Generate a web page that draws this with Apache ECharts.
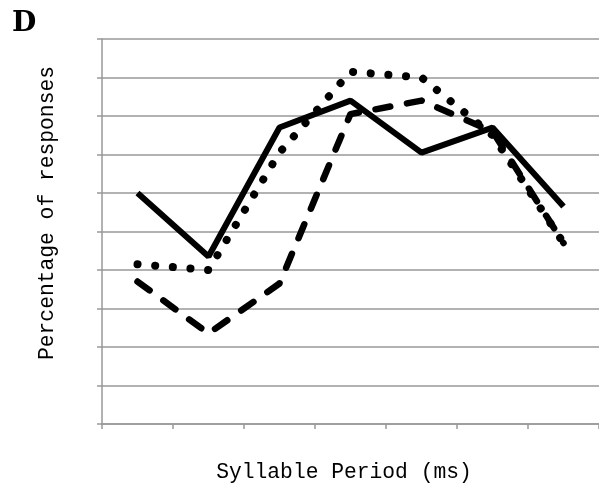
<!DOCTYPE html>
<html><head><meta charset="utf-8">
<script src="https://cdn.jsdelivr.net/npm/echarts@6/dist/echarts.min.js"></script>
<style>html,body{margin:0;padding:0;background:#fff}#c{width:599px;height:489px}</style>
</head><body><div id="c"></div>
<script>
const categories = ['1','2','3','4','5','6','7'];
const solidValues  = [6.0, 4.35, 7.7, 8.4, 7.05, 7.7, 5.65];
const dottedValues = [4.15, 4.0, 7.05, 9.15, 9.0, 7.5, 4.7];
const dashedValues = [3.7, 2.35, 3.65, 8.05, 8.4, 7.6, 4.7];
const panelLabel = 'D';
const xTitle = 'Syllable Period (ms)';
const yTitle = 'Percentage of responses';

const chart = echarts.init(document.getElementById('c'), null, {renderer:'canvas'});
const base = {type:'line', showSymbol:false, symbol:'none', silent:true, animation:false};
chart.setOption({
  animation:false,
  grid:{left:102, right:0, top:39, bottom:65, containLabel:false},
  xAxis:{type:'category', data:categories, boundaryGap:true,
    axisLine:{show:true, lineStyle:{color:'#999', width:1.5}},
    axisTick:{show:true, length:5, lineStyle:{color:'#999', width:1.5}},
    axisLabel:{show:false}, splitLine:{show:false}},
  yAxis:{type:'value', min:0, max:10, interval:1,
    axisLine:{show:true, lineStyle:{color:'#999', width:1.5}},
    axisTick:{show:true, length:5, lineStyle:{color:'#999', width:1.5}},
    axisLabel:{show:false},
    splitLine:{show:true, lineStyle:{color:'#999', width:1.5}}},
  graphic:[
    {type:'text', left:12, top:10, style:{text:panelLabel, font:'bold 28px "DejaVu Serif"', fill:'#000'}},
    {type:'text', x:344, y:472, style:{text:xTitle, font:'21.3px "Liberation Mono"', fill:'#000', align:'center', verticalAlign:'middle'}},
    {type:'text', x:47, y:213, rotation:Math.PI/2, style:{text:yTitle, font:'21.3px "Liberation Mono"', fill:'#000', align:'center', verticalAlign:'middle'}}
  ],
  series:[
    Object.assign({}, base, {name:'dashed', data:dashedValues, lineStyle:{color:'#000', width:6.5, type:[15,17], cap:'round', join:'round'}}),
    Object.assign({}, base, {name:'dotted', data:dottedValues, lineStyle:{color:'#000', width:8, type:[0.1,17.6], cap:'round', join:'round'}}),
    Object.assign({}, base, {name:'solid', data:solidValues, lineStyle:{color:'#000', width:6, type:'solid'}})
  ]
});
</script></body></html>
